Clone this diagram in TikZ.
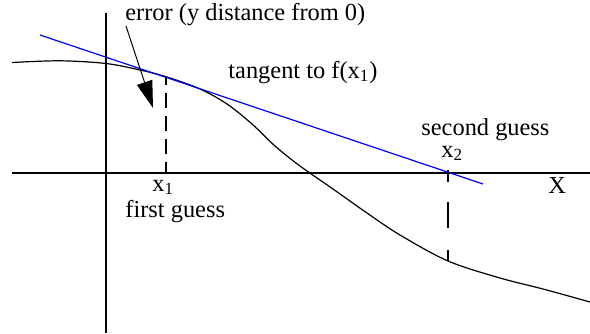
\documentclass[tikz,border=0pt]{standalone}
\usepackage{fontspec}
\setmainfont{Liberation Serif}
\newfontfamily\labelfont{Liberation Serif}
\usetikzlibrary{arrows.meta,positioning}
\tikzset{
  axisline/.style={line width=1pt, draw=black},
  fcurve/.style={line width=0.6pt, draw=black},
  tanline/.style={line width=0.6pt, draw=blue},
  guessline/.style={line width=1pt, draw=black},
  lbl/.style={inner sep=0pt, anchor=base west, font=\labelfont\fontsize{12.2pt}{14pt}\selectfont},
  errarr/.style={-{Triangle[length=13.5pt, width=8pt]}, line width=0.5pt, draw=black},
}
\begin{document}
\begin{tikzpicture}[x=0.5pt, y=-0.5pt]
  \useasboundingbox (0,0) rectangle (590,333);
  % axes
  \coordinate (xl) at (12,173);
  \coordinate (xr) at (590,173);
  \coordinate (yt) at (106,13);
  \coordinate (yb) at (106,333);
  \draw[axisline] (xl) -- (xr);
  \draw[axisline] (yt) -- (yb);
  % the function f
  \draw[fcurve] plot[smooth, tension=0.55] coordinates {
    (12,62.5) (60,60.8) (106,63.5) (140,70) (167,77) (200,89) (227,104)
    (252,124) (275,146) (300,166) (333,189) (367,213) (400,235)
    (448,261) (500,278) (543,289) (590,302)};
  % tangent at x1
  \coordinate (tA) at (40,35);
  \coordinate (tB) at (483,184);
  \draw[tanline] (tA) -- (tB);
  % guesses
  \coordinate (g1top) at (166,77);
  \coordinate (g1bot) at (166,173);
  \coordinate (g2top) at (448,170);
  \coordinate (g2bot) at (448,261);
  \draw[guessline, dash pattern=on 7.5pt off 4pt, dash phase=2pt] (g1bot) -- (g1top);
  \draw[guessline, dash pattern=on 6pt off 10pt on 13pt off 11pt] (g2top) -- (g2bot);
  % labels
  \node[lbl] (errlbl) at (125,20.5) {error (y distance from 0)};
  \node[lbl] (tanlbl) at (228,78) {tangent to f(x\textsubscript{1})};
  \node[lbl] (seclbl) at (421,135) {second guess};
  \node[lbl] (xtwo) at (441,157) {x\textsubscript{2}};
  \node[lbl] (xone) at (152,191) {x\textsubscript{1}};
  \node[lbl] (firstlbl) at (125,217) {first guess};
  \node[lbl] (xlbl) at (548,193) {X};
  % error arrow
  \coordinate (eS) at (126,26);
  \coordinate (eE) at (153,108);
  \draw[errarr] (eS) -- (eE);
\end{tikzpicture}
\end{document}
